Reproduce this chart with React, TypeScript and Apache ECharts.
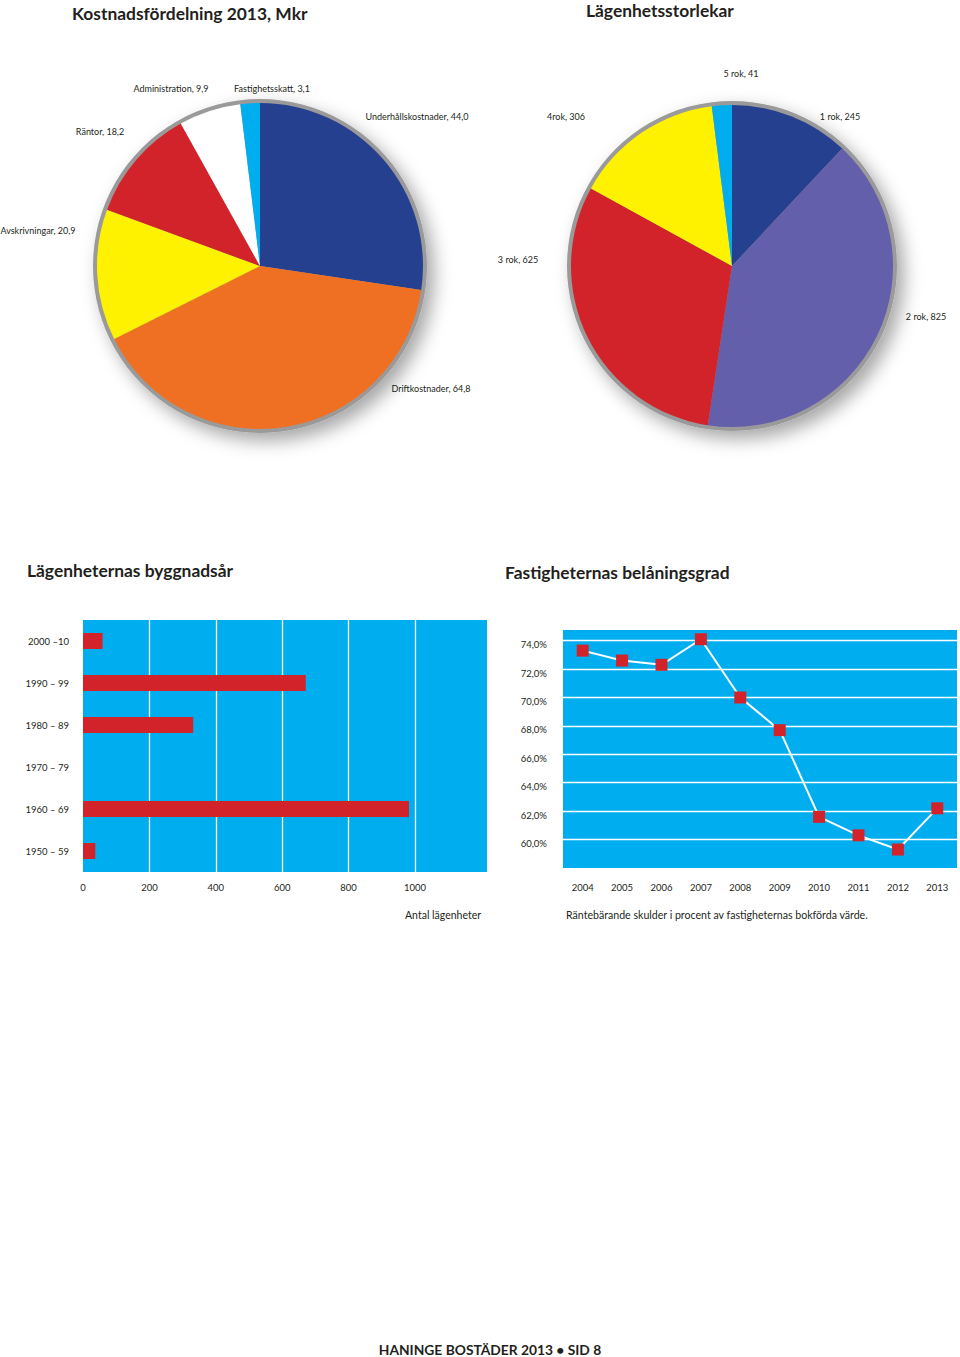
import React, { useEffect, useRef } from "react";
import * as echarts from "echarts";

// ---- Data ----
const costNames = ["Underhållskostnader", "Driftkostnader", "Avskrivningar", "Räntor", "Administration", "Fastighetsskatt"];
const costValues = [44.0, 64.8, 20.9, 18.2, 9.9, 3.1];
const costColors = ["#25408f", "#f07023", "#fff200", "#d2232a", "#ffffff", "#00aeef"];

const sizeNames = ["1 rok", "2 rok", "3 rok", "4rok", "5 rok"];
const sizeValues = [245, 825, 625, 306, 41];
const sizeColors = ["#25408f", "#635fab", "#d2232a", "#fff200", "#00aeef"];

const buildPeriods = ["2000 –10", "1990 – 99", "1980 – 89", "1970 – 79", "1960 – 69", "1950 – 59"];
const buildCounts = [59, 671, 332, 0, 982, 37];
const buildTicks = [200, 400, 600, 800, 1000];

const years = ["2004", "2005", "2006", "2007", "2008", "2009", "2010", "2011", "2012", "2013"];
const loanRatio = [73.3, 72.6, 72.3, 74.1, 70.0, 67.7, 61.6, 60.3, 59.3, 62.2];

// ---- Layout ----
const costLabelPos = [[417, 116], [431, 388], [38, 230], [100, 131], [171, 88], [272, 88]];
const sizeLabelPos = [[840, 116], [926, 316], [518, 259], [566, 116], [741, 73]];

const TXT = "#231f20";
const FONT = "Lato, 'Open Sans', sans-serif";

function txt(text: string, x: number, y: number, size: number, align = "center", weight: any = "normal") {
  return {
    type: "text",
    x,
    y,
    silent: true,
    style: {
      text,
      fill: TXT,
      fontSize: size,
      fontFamily: FONT,
      fontWeight: weight,
      align,
      verticalAlign: "middle",
      textAlign: align,
      textVerticalAlign: "middle",
    },
  };
}

export default function App() {
  const ref = useRef<HTMLDivElement>(null);
  useEffect(() => {
    document.body.style.margin = "0";
    const chart = echarts.init(ref.current!, null, { renderer: "svg" });
    const fmt1 = (v: number) => v.toFixed(1).replace(".", ",");

    const graphics: any[] = [
      txt("Kostnadsfördelning 2013, Mkr", 72, 13, 17.4, "left", "bold"),
      txt("Lägenhetsstorlekar", 586, 10, 17.4, "left", "bold"),
      txt("Lägenheternas byggnadsår", 27, 570, 17.4, "left", "bold"),
      txt("Fastigheternas belåningsgrad", 505, 572, 17.4, "left", "bold"),
      txt("Antal lägenheter", 481, 915, 10.5, "right"),
      txt("Räntebärande skulder i procent av fastigheternas bokförda värde.", 566, 915, 10.6, "left"),
      txt("HANINGE BOSTÄDER 2013 • SID 8", 490, 1349, 13.8, "center", "bold"),
    ];
    costNames.forEach((n, i) => {
      const p = costLabelPos[i];
      graphics.push(txt(`${n}, ${fmt1(costValues[i])}`, p[0], p[1], 9, "center"));
    });
    sizeNames.forEach((n, i) => {
      const p = sizeLabelPos[i];
      graphics.push(txt(`${n}, ${sizeValues[i]}`, p[0], p[1], 9, "center"));
    });

    const pieBack = (center: number[], r: number) => ({
      type: "pie",
      center,
      radius: r,
      silent: true,
      z: 1,
      label: { show: false },
      labelLine: { show: false },
      data: [{ value: 1, itemStyle: { color: "#9a9a9a" } }],
      itemStyle: {
        shadowBlur: 18,
        shadowColor: "rgba(0,0,0,0.35)",
        shadowOffsetX: 7,
        shadowOffsetY: 8,
      },
    });

    chart.setOption({
      animation: false,
      textStyle: { fontFamily: FONT },
      graphic: graphics,
      grid: [
        { left: 83, top: 620, width: 404, height: 252, show: true, backgroundColor: "#00aeef", borderWidth: 0 },
        { left: 563, top: 630, width: 394, height: 238, show: true, backgroundColor: "#00aeef", borderWidth: 0 },
      ],
      xAxis: [
        {
          type: "value",
          gridIndex: 0,
          min: 0,
          max: 1217,
          interval: 200,
          axisLine: { show: false },
          axisTick: { show: false },
          splitLine: { show: false },
          axisLabel: {
            margin: 10,
            fontSize: 9.5,
            color: TXT,
            formatter: (v: number) => (v <= 1000 ? String(v) : ""),
          },
        },
        {
          type: "category",
          gridIndex: 1,
          data: years,
          axisLine: { show: false },
          axisTick: { show: false },
          axisLabel: { margin: 14, fontSize: 9.5, color: TXT },
        },
      ],
      yAxis: [
        {
          type: "category",
          gridIndex: 0,
          inverse: true,
          data: buildPeriods,
          axisLine: { show: false },
          axisTick: { show: false },
          axisLabel: { margin: 14, fontSize: 9.5, color: TXT },
        },
        {
          type: "value",
          gridIndex: 1,
          min: 58,
          max: 74.75,
          interval: 2,
          axisLine: { show: false },
          axisTick: { show: false },
          splitLine: {
            show: true,
            showMinLine: false,
            showMaxLine: false,
            lineStyle: { color: "#ffffff", width: 1.3 },
          },
          axisLabel: {
            margin: 16,
            fontSize: 9.5,
            color: TXT,
            verticalAlign: "top",
            lineHeight: 8,
            formatter: (v: number) => (v >= 60 && v % 2 === 0 ? fmt1(v) + "%" : ""),
          },
        },
      ],
      series: [
        pieBack([260, 266], 167),
        {
          type: "pie",
          center: [260, 266],
          radius: 163,
          startAngle: 90,
          clockwise: true,
          z: 2,
          silent: true,
          label: { show: false },
          labelLine: { show: false },
          data: costNames.map((n, i) => ({ name: n, value: costValues[i], itemStyle: { color: costColors[i] } })),
        },
        pieBack([732, 266], 165),
        {
          type: "pie",
          center: [732, 266],
          radius: 161,
          startAngle: 90,
          clockwise: true,
          z: 2,
          silent: true,
          label: { show: false },
          labelLine: { show: false },
          data: sizeNames.map((n, i) => ({ name: n, value: sizeValues[i], itemStyle: { color: sizeColors[i] } })),
        },
        {
          type: "bar",
          xAxisIndex: 0,
          yAxisIndex: 0,
          data: buildCounts,
          barWidth: 16,
          z: 3,
          itemStyle: { color: "#d2232a" },
          markLine: {
            z: 1,
            silent: true,
            symbol: "none",
            label: { show: false },
            lineStyle: { color: "#ffffff", width: 1.3, type: "solid" },
            data: buildTicks.map((t) => ({ xAxis: t })),
          },
        },
        {
          type: "line",
          xAxisIndex: 1,
          yAxisIndex: 1,
          data: loanRatio,
          z: 3,
          lineStyle: { color: "#ffffff", width: 2 },
          symbol: "rect",
          symbolSize: 12,
          itemStyle: { color: "#d2232a" },
        },
      ],
    });
    return () => chart.dispose();
  }, []);
  return (
    <div
      ref={ref}
      style={{ position: "absolute", left: 0, top: 0, width: 960, height: 1357, background: "#ffffff" }}
    />
  );
}
